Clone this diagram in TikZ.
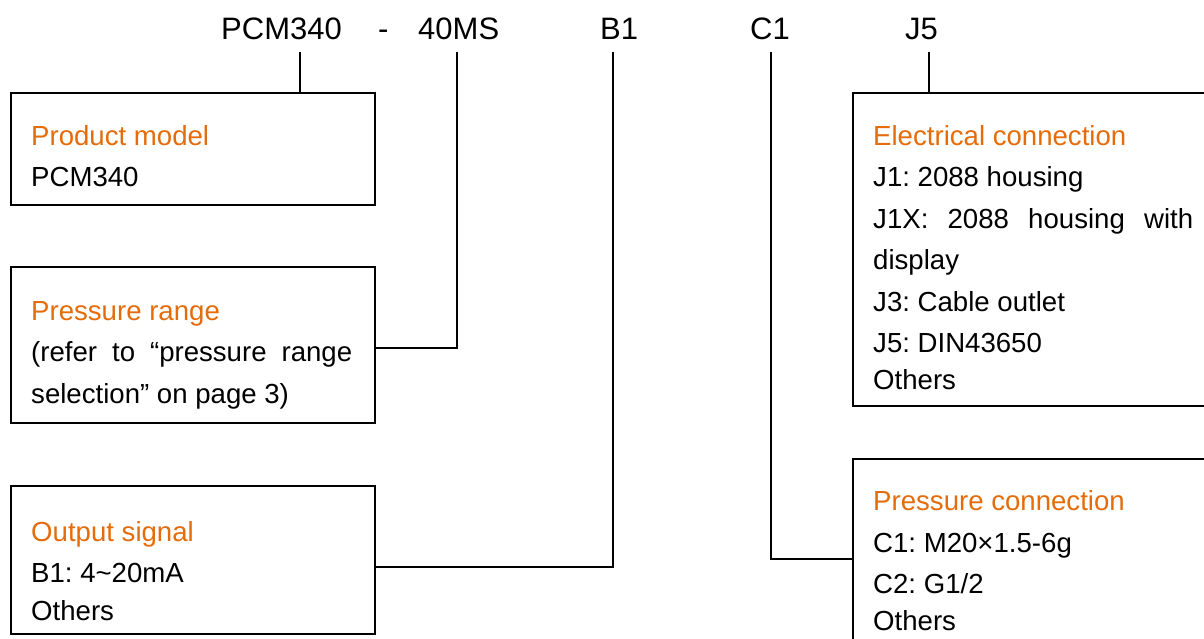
\documentclass[tikz,border=0pt]{standalone}
\usepackage{fontspec}
\setmainfont{Liberation Sans}
\usetikzlibrary{positioning,calc}
\definecolor{headOrange}{RGB}{228,108,10}
\newcommand{\bodySize}{\fontsize{27.6}{41.5}\selectfont\frenchspacing}
\newcommand{\codeSize}{\fontsize{31}{37}\selectfont}
\newcommand{\headText}[1]{\textcolor{headOrange}{#1}}

\begin{document}
\begin{tikzpicture}[%
  x=1pt,y=-1pt,
  boxStyle/.style={draw,line width=1.8pt,rectangle,anchor=north west,inner sep=0pt},
  linkStyle/.style={-,line width=1.6pt},
  thickLink/.style={-,line width=2.4pt},
  codeStyle/.style={anchor=base west,inner sep=0pt,font=\codeSize},
  textStyle/.style={anchor=base west,inner sep=0pt,align=left,font=\bodySize}
]
%
%
\pgfmathsetmacro{\leftWidth}{364}   % Width of the left boxes.
\pgfmathsetmacro{\rightWidth}{372}  % Width of the right boxes.
\pgfmathsetmacro{\topY}{52}         % Where the code lines start.
\clip (0,0) rectangle (1204,639);
%
%
% The order code.
\node[codeStyle] (pcm) at (221,40) {PCM340};
\node[codeStyle] (dash) at (378,40) {-};
\node[codeStyle] (ms) at (418,40) {40MS};
\node[codeStyle] (bOne) at (600,40) {B1};
\node[codeStyle] (cOne) at (750,40) {C1};
\node[codeStyle] (jFive) at (905,40) {J5};
\coordinate (pcmTop) at (300,\topY);
\coordinate (msTop) at (457,\topY);
\coordinate (bOneTop) at (613,\topY);
\coordinate (cOneTop) at (771,\topY);
\coordinate (jFiveTop) at (929,\topY);
%
%
% The boxes.
\node[boxStyle,minimum width=\leftWidth,minimum height=112] (prod) at (10,92) {};
\node[boxStyle,minimum width=\leftWidth,minimum height=156] (range) at (10,266) {};
\node[boxStyle,minimum width=\leftWidth,minimum height=148] (signal) at (10,485) {};
\node[boxStyle,minimum width=\rightWidth,minimum height=313] (elec) at (852,92) {};
\node[boxStyle,minimum width=\rightWidth,minimum height=200] (press) at (852,458) {};
%
%
% The texts in the boxes (placed by the base of their last line).
\node[textStyle] (prodText) at ($(prod.north west)+(21,95)$)
  {\headText{Product model}\\PCM340};
\node[textStyle] (rangeText) at ($(range.north west)+(21,137)$)
  {\headText{Pressure range}\\
   \makebox[321pt][s]{(refer to “pressure range}\\
   selection” on page 3)};
\node[textStyle] (signalText) at ($(signal.north west)+(21,135)$)
  {\headText{Output signal}\\B1: 4\textasciitilde20mA\\[-4pt]Others};
\node[textStyle] (elecText) at ($(elec.north west)+(21,297)$)
  {\headText{Electrical connection}\\J1: 2088 housing\\
   \makebox[320pt][s]{J1X: 2088 housing with}\\display\\
   J3: Cable outlet\\J5: DIN43650\\[-5pt]Others};
\node[textStyle] (pressText) at ($(press.north west)+(21,172)$)
  {\headText{Pressure connection}\\C1: M20×1.5-6g\\C2: G1/2\\[-5pt]Others};
%
%
% The lines from the code to the boxes.
\draw[thickLink] (pcmTop) -- (pcmTop |- prod.north);
\draw[linkStyle] (msTop) |- ([yshift=-3pt]range.east);
\draw[linkStyle] (bOneTop) |- ([yshift=-7pt]signal.east);
\draw[thickLink] (cOneTop) |- (press.west);
\draw[thickLink] (jFiveTop) -- (jFiveTop |- elec.north);
\end{tikzpicture}
\end{document}
